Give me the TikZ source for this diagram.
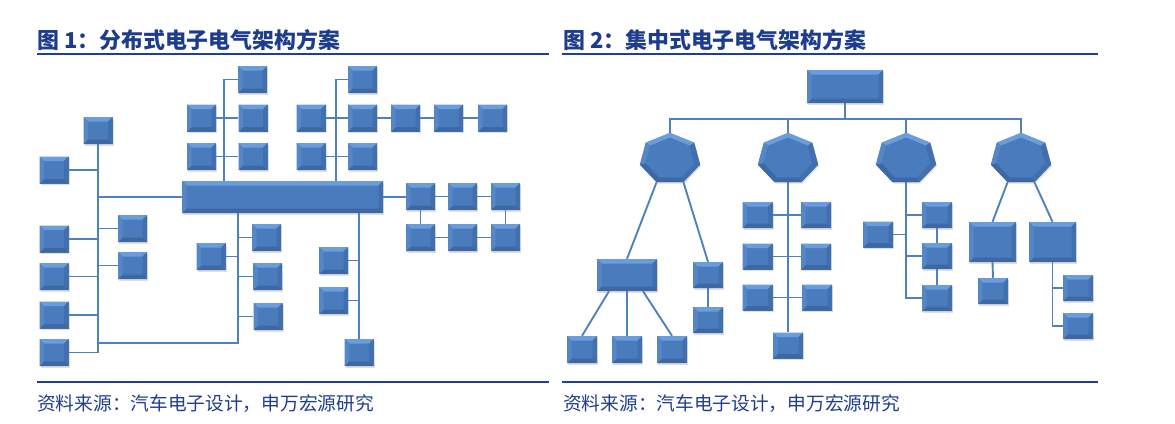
\documentclass[tikz,border=0pt]{standalone}
\usepackage{fontspec}
\newfontfamily\cjk{Noto Sans CJK SC}
\usetikzlibrary{shapes.geometric,shadows,backgrounds,calc}
\definecolor{navy}{HTML}{1E3C8E}
\definecolor{srcblue}{HTML}{1F3D90}
\definecolor{rulec}{HTML}{1E3F94}
\definecolor{boxc}{HTML}{4A7BBC}
\definecolor{bvT}{HTML}{6A9EDB}
\definecolor{bvL}{HTML}{5587C7}
\definecolor{bvR}{HTML}{4270AE}
\definecolor{bvB}{HTML}{3D68A4}
\definecolor{wirec}{HTML}{4F81BD}
\tikzset{
  bx/.style={rectangle, fill=boxc, inner sep=0pt, minimum width=29pt, minimum height=27pt,
    drop shadow={opacity=0.25, shadow xshift=1pt, shadow yshift=-1.5pt},
    path picture={
      \coordinate (pa) at (path picture bounding box.north west);
      \coordinate (pb) at (path picture bounding box.north east);
      \coordinate (pc) at (path picture bounding box.south east);
      \coordinate (pd) at (path picture bounding box.south west);
      \coordinate (qa) at ([xshift=4.5pt,yshift=-4.5pt]pa);
      \coordinate (qb) at ([xshift=-4.5pt,yshift=-4.5pt]pb);
      \coordinate (qc) at ([xshift=-4.5pt,yshift=4.5pt]pc);
      \coordinate (qd) at ([xshift=4.5pt,yshift=4.5pt]pd);
      \fill[bvT] (pa)--(pb)--(qb)--(qa)--cycle;
      \fill[bvR] (pb)--(pc)--(qc)--(qb)--cycle;
      \fill[bvB] (pc)--(pd)--(qd)--(qc)--cycle;
      \fill[bvL] (pd)--(pa)--(qa)--(qd)--cycle;
    }},
  hept/.style={regular polygon, regular polygon sides=7, minimum size=51.6pt, inner sep=0pt,
    fill=bvB, drop shadow={opacity=0.25, shadow xshift=1pt, shadow yshift=-1.5pt}},
  heptin/.style={regular polygon, regular polygon sides=7, minimum size=42pt, inner sep=0pt, fill=boxc},
  wire/.style={draw=wirec, line width=1.9pt},
  rulel/.style={draw=rulec, line width=2pt},
  ttl/.style={anchor=base west, inner sep=0pt, text=navy, font=\cjk\bfseries\fontsize{21.9}{24}\selectfont},
  src/.style={anchor=base west, inner sep=0pt, text=srcblue, font=\cjk\fontsize{18.7}{21}\selectfont},
  sbox/.style={bx, minimum width=30pt, minimum height=26pt}
}
\begin{document}
\begin{tikzpicture}[x=1pt,y=-1pt]
\useasboundingbox (0,0) rectangle (1175,423);

% titles and rules
\node[ttl] (t1) at (37,48.5) {图 1：分布式电子电气架构方案};
\node[ttl] (t2) at (563,48.5) {图 2：集中式电子电气架构方案};
\draw[rulel] (37,54) -- (549,54);
\draw[rulel] (562,54) -- (1098,54);
\draw[rulel] (37,382) -- (549,382);
\draw[rulel] (562,382) -- (1098,382);
\node[src] (s1) at (37,410) {资料来源：汽车电子设计，申万宏源研究};
\node[src] (s2) at (563,410) {资料来源：汽车电子设计，申万宏源研究};

% ---------------- left diagram ----------------
\node[bx, minimum width=201pt, minimum height=32pt] (M) at (282.5,197) {};
\node[bx] (a1) at (252.5,79.5) {};
\node[bx] (a2) at (201.5,118) {};
\node[bx] (a3) at (253,118) {};
\node[bx] (a4) at (201.5,156.5) {};
\node[bx] (a5) at (253,156.5) {};
\node[bx] (c1) at (362.5,79.5) {};
\node[bx] (c2) at (311,118) {};
\node[bx] (c3) at (362.5,118) {};
\node[bx] (c4) at (405.5,118) {};
\node[bx] (c5) at (448.5,118) {};
\node[bx] (c6) at (492.5,118) {};
\node[bx] (c7) at (311,156.5) {};
\node[bx] (c8) at (362.5,156.5) {};
\node[bx] (d1) at (420.5,196.5) {};
\node[bx] (d2) at (462.5,196.5) {};
\node[bx] (d3) at (505.5,196.5) {};
\node[bx] (d4) at (420.5,237.5) {};
\node[bx] (d5) at (462.5,237.5) {};
\node[bx] (d6) at (505.5,237.5) {};
\node[bx] (e1) at (98,130.5) {};
\node[bx] (e2) at (54,170) {};
\node[bx] (e3) at (54,239) {};
\node[bx] (e4) at (54,276.5) {};
\node[bx] (e5) at (54,315) {};
\node[bx] (e6) at (54,352.5) {};
\node[bx] (e7) at (132.5,228.5) {};
\node[bx] (e8) at (132.5,265.5) {};
\node[bx] (f1) at (211,256.5) {};
\node[bx] (f2) at (266.5,237.5) {};
\node[bx] (f3) at (267.5,276.5) {};
\node[bx] (f4) at (268,316.5) {};
\node[bx] (g1) at (333.5,260.5) {};
\node[bx] (g2) at (333.5,300.5) {};
\node[bx] (g3) at (359,352.5) {};
\coordinate (k1) at (224,0);
\coordinate (k2) at (336,0);
\coordinate (k3) at (238,343);

% ---------------- right diagram ----------------
\node[bx, minimum width=76pt, minimum height=33pt] (T) at (845,86.5) {};
\coordinate (bus) at (845,119);
\foreach \n/\x in {H1/670,H2/788,H3/906,H4/1021}{
  \path (\x,158.8) node[hept, xscale=1.19] (\n) {};
  \path (\x,158.8) node[heptin, xscale=1.19] (\n-in) {};
  \foreach \i/\j/\c in {1/2/bvT,2/3/bvL,3/4/bvB,4/5/bvB,5/6/bvR,6/7/bvR,7/1/bvT}{
    \fill[\c] (\n.corner \i) -- (\n.corner \j) -- (\n-in.corner \j) -- (\n-in.corner \i) -- cycle;
  }
}
\node[bx, minimum width=60pt, minimum height=32pt] (P1) at (627,275) {};
\node[sbox] (Q1) at (708,275) {};
\node[sbox] (Q2) at (708,320) {};
\node[sbox, minimum height=27pt] (R1) at (582,349.5) {};
\node[sbox, minimum height=27pt] (R2) at (627,349.5) {};
\node[sbox, minimum height=27pt] (R3) at (672,349.5) {};
\node[sbox] (S1) at (757.5,215) {};
\node[sbox] (S2) at (816,215) {};
\node[sbox] (S3) at (757.5,256.5) {};
\node[sbox] (S4) at (816,256.5) {};
\node[sbox] (S5) at (757.5,297.5) {};
\node[sbox] (S6) at (817,297.5) {};
\node[sbox] (S7) at (788,345.5) {};
\node[sbox] (V) at (878,234.5) {};
\node[sbox] (U1) at (937,215) {};
\node[sbox] (U2) at (937,256) {};
\node[sbox] (U3) at (937,298) {};
\node[bx, minimum width=47pt, minimum height=40pt] (W1) at (992.5,242) {};
\node[bx, minimum width=47pt, minimum height=40pt] (W2) at (1052.5,242) {};
\node[sbox] (X1) at (993,291) {};
\node[sbox] (Y1) at (1078,288) {};
\node[sbox] (Y2) at (1078,326) {};

\begin{scope}[on background layer]
% left
\draw[wire] (M.north -| k1) |- (a1.west);
\draw[wire] (a2.east) -- (a3.west);
\draw[wire] (a4.east) -- (a5.west);
\draw[wire] (M.north -| k2) |- (c1.west);
\draw[wire] (c2.east) -- (c3.west);
\draw[wire] (c3.east) -- (c4.west);
\draw[wire] (c4.east) -- (c5.west);
\draw[wire] (c5.east) -- (c6.west);
\draw[wire] (c7.east) -- (c8.west);
\draw[wire] (M.east) -- (M.east -| d1.west);
\draw[wire] (d1.east) -- (d2.west);
\draw[wire] (d2.east) -- (d3.west);
\draw[wire] (d4.east) -- (d5.west);
\draw[wire] (d5.east) -- (d6.west);
\draw[wire] (d1.south) -- (d4.north);
\draw[wire] (d3.south) -- (d6.north);
\draw[wire] (e1.south) |- (e6.east);
\foreach \b in {e2,e3,e4,e5}{\draw[wire] (\b.east) -- (\b.east -| e1.south);}
\foreach \b in {e7,e8}{\draw[wire] (\b.west) -- (\b.west -| e1.south);}
\draw[wire] (M.west) -- (M.west -| e1.south);
\draw[wire] (M.south -| k3) |- (k3 -| e1.south);
\draw[wire] (f1.east) -- (f1.east -| k3);
\foreach \b in {f2,f3,f4}{\draw[wire] (\b.west) -- (\b.west -| k3);}
\draw[wire] (M.south -| g3.north) -- (g3.north);
\foreach \b in {g1,g2}{\draw[wire] (\b.east) -- (\b.east -| g3.north);}
% right
\draw[wire] (T.south) -- (bus);
\draw[wire] (H1.corner 1) |- (bus) -| (H4.corner 1);
\draw[wire] (H2.corner 1) -- (H2.corner 1 |- bus);
\draw[wire] (H3.corner 1) -- (H3.corner 1 |- bus);
\draw[wire] (H1.corner 4) -- (P1.north);
\draw[wire] (H1.corner 5) -- (Q1.north);
\draw[wire] (Q1.south) -- (Q2.north);
\draw[wire] ([xshift=-18pt]P1.south) -- (R1.north);
\draw[wire] (P1.south) -- (R2.north);
\draw[wire] ([xshift=16pt]P1.south) -- (R3.north);
\draw[wire] (H2.south) -- (S7.north);
\draw[wire] (S1.east) -- (S2.west);
\draw[wire] (S3.east) -- (S4.west);
\draw[wire] (S5.east) -- (S6.west);
\draw[wire] (H3.south) |- (U3.west);
\draw[wire] (U1.west) -- (U1.west -| H3.south);
\draw[wire] (U2.west) -- (U2.west -| H3.south);
\draw[wire] (V.east) -- (V.east -| H3.south);
\draw[wire] (U1.south) -- (U2.north);
\draw[wire] (U2.south) -- (U3.north);
\draw[wire] (H4.corner 4) -- (W1.north);
\draw[wire] (H4.corner 5) -- (W2.north);
\draw[wire] (W1.south) -- (X1.north);
\draw[wire] (W2.south) |- (Y2.west);
\draw[wire] (Y1.west) -- (Y1.west -| W2.south);
\end{scope}
\end{tikzpicture}
\end{document}
